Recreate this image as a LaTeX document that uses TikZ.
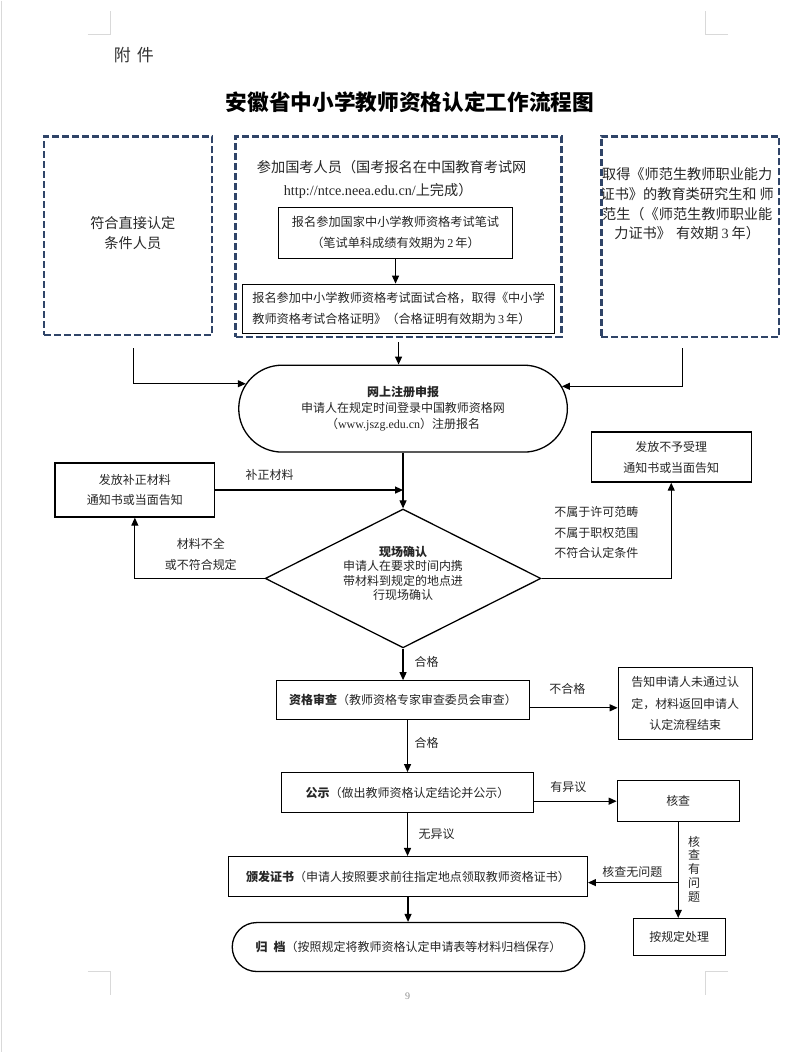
\documentclass[tikz,border=0pt]{standalone}
\usepackage{fontspec}
\setmainfont{Liberation Serif}
\newfontfamily\cjk{Noto Sans CJK SC}
\usepackage{xcolor}
\usepackage{tikz}
\usetikzlibrary{
  arrows.meta,
  shapes.geometric,
  shapes.misc
}
\definecolor{navy}{HTML}{2F4468}
\definecolor{pagegray}{HTML}{D9D9D9}
\newcommand\urltext[1]{{\rmfamily #1}}

\begin{document}
\begin{tikzpicture}[x=1pt, y=-1pt,
    every node/.style={inner sep=0pt, align=center, text=black!85, font=\cjk\fontsize{12}{20}\selectfont},
    field/.style={draw=black, line width=1.3pt},
    group/.style={draw=navy, line width=2.5pt, dash pattern=on 7pt off 3pt},
    terminal/.style={rounded rectangle, draw=black, line width=1.3pt},
    decision/.style={diamond, draw=black, line width=1.3pt},
    flow/.style={-{Triangle[length=8pt,width=7pt]}, line width=1.2pt},
    cropmark/.style={draw=pagegray, line width=1.2pt},
    big/.style={font=\cjk\fontsize{14.2}{20}\selectfont}]
\path[fill=white] (0,0) rectangle (800,1053);
\draw[cropmark] (1.5,0) -- (1.5,1053);
\draw[cropmark] (88,34) -- (111,34) -- (111,10);
\draw[cropmark] (729,34) -- (706,34) -- (706,10);
\draw[cropmark] (88,972) -- (111,972) -- (111,996);
\draw[cropmark] (729,972) -- (706,972) -- (706,996);

\node [text=black!80, font=\cjk\fontsize{17}{20}\selectfont] (annex) at (134,55) {附\hspace{6pt}件};
\node [text=black, font=\cjk\bfseries\fontsize{21.7}{24}\selectfont] (title) at (410.5,102) {安徽省中小学教师资格认定工作流程图};

\node [group, minimum width=168pt, minimum height=199pt] (direct) at (128,235.5) {};
\node [big] (directtext) at (133,233) {符合直接认定\\条件人员};
\node [group, minimum width=326pt, minimum height=201pt] (exam) at (399,236.5) {};
\node [font=\cjk\fontsize{14.2}{23}\selectfont, align=left, anchor=west] (examtext) at (257,179.5) {参加国考人员（国考报名在中国教育考试网\\\hspace*{27pt}\urltext{http://ntce.neea.edu.cn/}上完成）};
\node [field, minimum width=234pt, minimum height=51pt, font=\cjk\fontsize{12.2}{21}\selectfont] (written) at (396,232.5) {报名参加国家中小学教师资格考试笔试\\（笔试单科成绩有效期为\,\urltext{2}\,年）};
\node [field, minimum width=312pt, minimum height=49pt, align=left, font=\cjk\fontsize{12.2}{21}\selectfont] (interview) at (399,308.5) {报名参加中小学教师资格考试面试合格，取得《中小学\\教师资格考试合格证明》（合格证明有效期为\,\urltext{3}\,年）};
\node [group, minimum width=178pt, minimum height=201pt] (normal) at (691,236.5) {};
\node [font=\cjk\fontsize{14.2}{19.7}\selectfont] (normaltext) at (688,203.5) {取得《师范生教师职业能力\\证书》的教育类研究生和\hspace{3pt}师\\范生（《师范生教师职业能\\力证书》\hspace{5pt}有效期\hspace{3pt}\urltext{3}\hspace{3pt}年）};

\node [terminal, minimum width=329pt, minimum height=87pt, font=\cjk\fontsize{12}{16.5}\selectfont] (reg) at (403.5,408.5) {\textbf{网上注册申报}\\申请人在规定时间登录中国教师资格网\\（\urltext{www.jszg.edu.cn}）注册报名};
\node [field, minimum width=160pt, minimum height=54pt] (patch) at (135,490) {发放补正材料\\通知书或当面告知};
\node [field, minimum width=160pt, minimum height=50pt, font=\cjk\fontsize{12}{21}\selectfont] (reject) at (672,457) {发放不予受理\\通知书或当面告知};
\node [decision, minimum width=276pt, minimum height=139pt] (confirm) at (403.5,578.5) {};
\node [font=\cjk\fontsize{12}{14.5}\selectfont] (confirmtext) at (403.5,573.5) {\textbf{现场确认}\\申请人在要求时间内携\\带材料到规定的地点进\\行现场确认};
\node [field, minimum width=253pt, minimum height=39pt] (review) at (403.5,700.5) {\textbf{资格审查}（教师资格专家审查委员会审查）};
\node [field, minimum width=134pt, minimum height=72pt, font=\cjk\fontsize{12}{21.5}\selectfont] (fail) at (686,704) {告知申请人未通过认\\定，材料返回申请人\\认定流程结束};
\node [field, minimum width=252pt, minimum height=40pt] (publicize) at (408,793) {\textbf{公示}（做出教师资格认定结论并公示）};
\node [field, minimum width=122pt, minimum height=41pt] (check) at (679,801.5) {核查};
\node [field, minimum width=359pt, minimum height=40pt] (issue) at (408.5,877) {\textbf{颁发证书}（申请人按照要求前往指定地点领取教师资格证书）};
\node [terminal, minimum width=353pt, minimum height=49pt] (archive) at (409,947.5) {\textbf{归\hspace{6pt}档}（按照规定将教师资格认定申请表等材料归档保存）};
\node [field, minimum width=92pt, minimum height=37pt] (handle) at (680,937.5) {按规定处理};

\node (patchlabel) at (270,475) {补正材料};
\node [font=\cjk\fontsize{12}{21}\selectfont] (lacklabel) at (201,554.5) {材料不全\\或不符合规定};
\node [font=\cjk\fontsize{12}{20.5}\selectfont] (rejectlabel) at (597,532.5) {不属于许可范畴\\不属于职权范围\\不符合认定条件};
\node (passlabel) at (427,662) {合格};
\node (faillabel) at (568,689) {不合格};
\node (approvelabel) at (427,743) {合格};
\node (objlabel) at (569,787) {有异议};
\node (noobjlabel) at (437,834) {无异议};
\node (oklabel) at (633,872) {核查无问题};
\node [font=\cjk\fontsize{12}{13.75}\selectfont] (problabel) at (695,869.5) {核\\查\\有\\问\\题};
\node [text=black!45, font=\rmfamily\fontsize{10}{12}\selectfont] (pagenum) at (408,997) {9};

\draw[flow] ([xshift=6pt,yshift=-12pt]direct.south) |- (reg.171.5);
\draw[flow] ([yshift=-4pt]exam.south) -- (exam.south |- reg.north);
\draw[flow] ([xshift=-8pt,yshift=-10pt]normal.south) |- (reg.8.5);
\draw[flow] (written.south) -- (written.south |- interview.north);
\draw[flow] (reg.south) -- (confirm.north);
\draw[flow] (patch.east) -- (patch.east -| reg.south);
\draw[flow] (confirm.west) -| (patch.south);
\draw[flow] (confirm.east) -| (reject.south);
\draw[flow] (confirm.south) -- (review.north);
\coordinate (reviewout) at ([yshift=-7.5pt]review.east);
\draw[flow] (reviewout) -- (reviewout -| fail.west);
\draw[flow] (publicize.north |- review.south) -- (publicize.north);
\draw[flow] (publicize.east |- check.west) -- (check.west);
\draw[flow] (publicize.south) -- (publicize.south |- issue.north);
\draw[flow] (check.south) -- (check.south |- handle.north);
\coordinate (issuein) at ([yshift=-6pt]issue.east);
\draw[flow] (check.south |- issuein) -- (issuein);
\draw[flow] (issue.south) -- (issue.south |- archive.north);
\end{tikzpicture}
\end{document}
